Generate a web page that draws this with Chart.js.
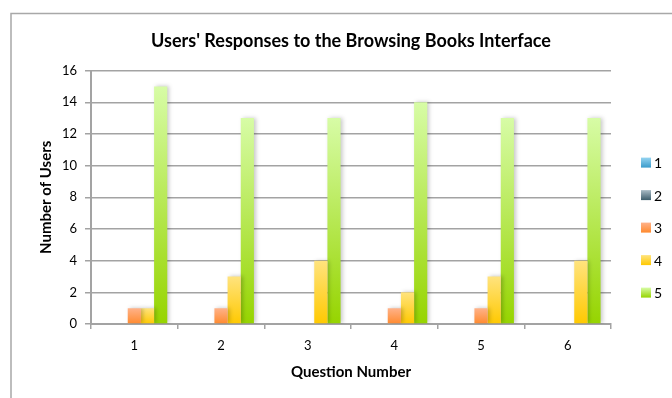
<!DOCTYPE html>
<html>
<head>
<meta charset="utf-8">
<script src="https://cdn.jsdelivr.net/npm/chart.js@4/dist/chart.umd.min.js"></script>
<style>
  html, body { margin: 0; padding: 0; background: #fff; }
  canvas { display: block; }
</style>
</head>
<body>
<canvas id="chart" width="672" height="398"></canvas>
<script>
// Survey answers: how many users gave each rating (1–5) on each question
const questions = ['1', '2', '3', '4', '5', '6'];
const ratingLabels = ['1', '2', '3', '4', '5'];
const rating1 = [0, 0, 0, 0, 0, 0];
const rating2 = [0, 0, 0, 0, 0, 0];
const rating3 = [1, 1, 0, 1, 1, 0];
const rating4 = [1, 3, 4, 2, 3, 4];
const rating5 = [15, 13, 13, 14, 13, 13];
const yMin = 0;
const yMax = 16;
const yStep = 2;

const chartTitle = "Users' Responses to the Browsing Books Interface";
const xTitle = 'Question Number';
const yTitle = 'Number of Users';

// Vertical gradient per rating: [top colour, bottom colour]
const ratingShades = [
  ['#95d4f1', '#3a9bcb'],
  ['#a9bbc5', '#3d5d6b'],
  ['#ffb28a', '#ff8a2e'],
  ['#ffe37e', '#ffc900'],
  ['#d7fca6', '#96d400']
];

const FONT = 'Lato, "Open Sans", sans-serif';
const GRID = '#a3a3a3';

function barFill(shade) {
  return (ctx) => {
    const chart = ctx.chart;
    if (ctx.type !== 'data' || !chart.chartArea || !ctx.parsed) return shade[1];
    const y = chart.scales.y;
    const top = y.getPixelForValue(ctx.parsed.y);
    const base = y.getPixelForValue(0);
    if (!isFinite(top) || Math.abs(base - top) < 0.5) return shade[1];
    const g = chart.ctx.createLinearGradient(0, top, 0, base);
    g.addColorStop(0, shade[0]);
    g.addColorStop(1, shade[1]);
    return g;
  };
}

const seriesValues = [rating1, rating2, rating3, rating4, rating5];
const datasets = seriesValues.map((values, i) => ({
  label: ratingLabels[i],
  data: values,
  backgroundColor: barFill(ratingShades[i]),
  borderWidth: 0,
  categoryPercentage: 0.76,
  barPercentage: 1.0
}));

// White page with the thin grey frame around the chart
const framePlugin = {
  id: 'frame',
  beforeDraw(chart) {
    const c = chart.ctx;
    c.save();
    c.fillStyle = '#fff';
    c.fillRect(0, 0, chart.width, chart.height);
    c.strokeStyle = '#a8a8a8';
    c.lineWidth = 1.5;
    c.strokeRect(11, 13.5, chart.width + 20, chart.height + 20);
    c.restore();
  }
};

// Soft drop shadow behind the bars
const shadowPlugin = {
  id: 'barShadow',
  beforeDatasetsDraw(chart) {
    const c = chart.ctx;
    c.save();
    c.shadowColor = 'rgba(0,0,0,0.22)';
    c.shadowBlur = 4;
    c.shadowOffsetX = 2;
    c.shadowOffsetY = 0;
  },
  afterDatasetsDraw(chart) {
    chart.ctx.restore();
  }
};

// Legend column to the right of the plot
const legendPlugin = {
  id: 'sideLegend',
  afterDraw(chart) {
    const c = chart.ctx;
    const area = chart.chartArea;
    const x = area.right + 30;
    const firstY = area.top + 92;
    const gap = 32.5;
    const size = 10;
    c.save();
    c.font = '14px ' + FONT;
    c.textBaseline = 'middle';
    c.textAlign = 'left';
    chart.data.datasets.forEach((ds, i) => {
      const cy = firstY + i * gap;
      const shade = ratingShades[i];
      const g = c.createLinearGradient(0, cy - size / 2, 0, cy + size / 2);
      g.addColorStop(0, shade[0]);
      g.addColorStop(1, shade[1]);
      c.fillStyle = g;
      c.fillRect(x, cy - size / 2, size, size);
      c.fillStyle = '#000';
      c.fillText(ds.label, x + size + 3, cy + 1);
    });
    c.restore();
  }
};

new Chart(document.getElementById('chart'), {
  type: 'bar',
  data: { labels: questions, datasets },
  plugins: [framePlugin, shadowPlugin, legendPlugin],
  options: {
    responsive: false,
    animation: false,
    layout: { padding: { left: 0, right: 61, top: 0, bottom: 0 } },
    plugins: {
      legend: { display: false },
      tooltip: { enabled: false },
      title: {
        display: true,
        fullSize: false,
        text: chartTitle,
        color: '#000',
        font: { family: FONT, size: 18, weight: 'bold' },
        padding: { top: 30, bottom: 19 }
      }
    },
    scales: {
      x: {
        grid: {
          display: true,
          drawOnChartArea: false,
          drawTicks: true,
          tickLength: 5,
          color: GRID,
          lineWidth: 1.5,
          offset: true
        },
        border: { display: true, color: GRID, width: 2 },
        ticks: { color: '#000', font: { family: FONT, size: 13 }, padding: 9 },
        title: {
          display: true,
          text: xTitle,
          color: '#000',
          font: { family: FONT, size: 15, weight: 'bold' },
          padding: { top: 0, bottom: 17 }
        },
        afterFit(scale) { scale.height = 74; }
      },
      y: {
        min: yMin,
        max: yMax,
        ticks: { stepSize: yStep, color: '#000', font: { family: FONT, size: 13 }, padding: 8 },
        grid: { color: GRID, lineWidth: 1.5, tickLength: 6 },
        border: { display: true, color: GRID, width: 2 },
        title: {
          display: true,
          text: yTitle,
          color: '#000',
          font: { family: FONT, size: 15, weight: 'bold' },
          padding: { top: 37, bottom: 0 }
        },
        afterFit(scale) { scale.width = 91; }
      }
    }
  }
});
</script>
</body>
</html>
